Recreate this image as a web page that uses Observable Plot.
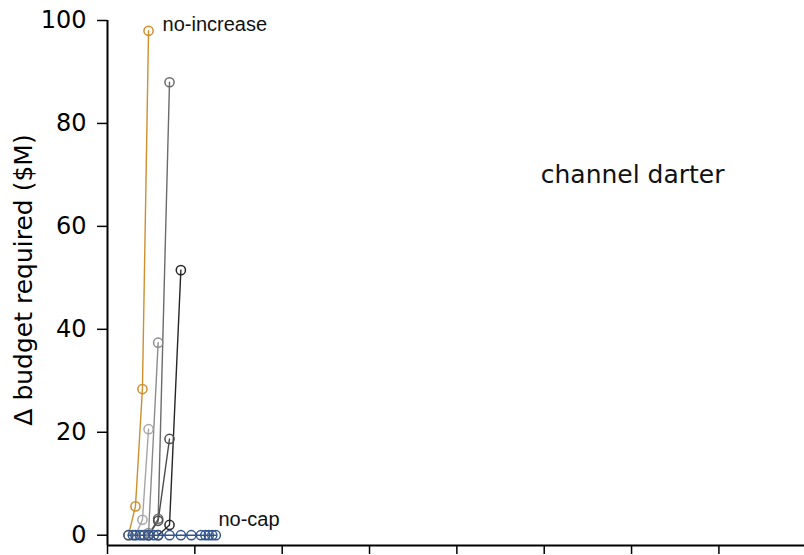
<!DOCTYPE html>
<html>
<head>
<meta charset="utf-8">
<script src="https://cdn.jsdelivr.net/npm/d3@7"></script>
<script src="https://cdn.jsdelivr.net/npm/@observablehq/plot@0.6"></script>
<style>
  html, body { margin: 0; padding: 0; background: #fff; }
  #chart svg { display: block; }
</style>
</head>
<body>
<div id="chart"></div>
<script>
// ---- data ----
const seriesNames = ["cap A", "cap B", "cap C", "cap D", "cap E", "no-increase", "no-cap"];
const seriesColors = ["#a6a6a6", "#8c8c8c", "#6b6b6b", "#4d4d4d", "#262626", "#cf8f2e", "#33558f"];

const noIncreaseX = [0.24, 0.32, 0.40, 0.47];
const noIncreaseY = [0, 5.6, 28.4, 98];

const capAX = [0.32, 0.40, 0.47];
const capAY = [0, 3.0, 20.6];
const capBX = [0.40, 0.47, 0.58];
const capBY = [0, 0.4, 37.4];
const capCX = [0.47, 0.58, 0.71];
const capCY = [0, 3.2, 88];
const capDX = [0.47, 0.58, 0.71];
const capDY = [0, 2.8, 18.7];
const capEX = [0.58, 0.71, 0.84];
const capEY = [0, 2.0, 51.5];

const noCapX = [0.24, 0.29, 0.32, 0.37, 0.42, 0.47, 0.53, 0.58, 0.71, 0.84, 0.96, 1.07, 1.12, 1.16, 1.20, 1.24];
const noCapY = [0, 0, 0, 0, 0, 0, 0, 0, 0, 0, 0, 0, 0, 0, 0, 0];

const yTicks = [0, 20, 40, 60, 80, 100];
const xTicks = [0, 1, 2, 3, 4, 5, 6, 7];

const labels = [
  {text: "no-increase", x: 0.63, y: 99.2},
  {text: "no-cap", x: 1.27, y: 3.0}
];
const speciesLabel = [{text: "channel darter", x: 4.96, y: 70}];

// ---- build table ----
function rows(name, xs, ys) { return xs.map((x, i) => ({series: name, x, y: ys[i]})); }
const data = [
  ...rows("cap A", capAX, capAY),
  ...rows("cap B", capBX, capBY),
  ...rows("cap C", capCX, capCY),
  ...rows("cap D", capDX, capDY),
  ...rows("cap E", capEX, capEY),
  ...rows("no-increase", noIncreaseX, noIncreaseY),
  ...rows("no-cap", noCapX, noCapY)
];

const chart = Plot.plot({
  width: 804,
  height: 555,
  marginLeft: 107,
  marginRight: 0,
  marginTop: 20,
  marginBottom: 10,
  style: {fontFamily: "DejaVu Sans", background: "#fff", color: "#000"},
  x: {domain: [0, 7.98]},
  y: {domain: [-2, 100]},
  color: {domain: seriesNames, range: seriesColors},
  marks: [
    Plot.axisY({ticks: yTicks, tickSize: 10, tickPadding: 11, fontSize: 24, strokeWidth: 1.5, label: null}),
    Plot.axisX({ticks: xTicks, tickSize: 9, tickFormat: () => "", strokeWidth: 1.5, label: null}),
    Plot.text(["Δ budget required ($M)"], {
      frameAnchor: "left", dx: -84, dy: -3, rotate: -90, fontSize: 25, textAnchor: "middle"
    }),
    Plot.line(data, {x: "x", y: "y", z: "series", stroke: "series", strokeWidth: 1.4}),
    Plot.dot(data, {x: "x", y: "y", stroke: "series", r: 4.6, strokeWidth: 1.5, fill: "none"}),
    Plot.ruleX([0], {stroke: "#000", strokeWidth: 2}),
    Plot.ruleY([-2], {stroke: "#000", strokeWidth: 2}),
    Plot.text(labels, {x: "x", y: "y", text: "text", textAnchor: "start", fontSize: 20, fontFamily: "Liberation Sans", fill: "#111"}),
    Plot.text(speciesLabel, {x: "x", y: "y", text: "text", textAnchor: "start", fontSize: 25, fill: "#111"})
  ]
});
document.getElementById("chart").appendChild(chart);
</script>
</body>
</html>
